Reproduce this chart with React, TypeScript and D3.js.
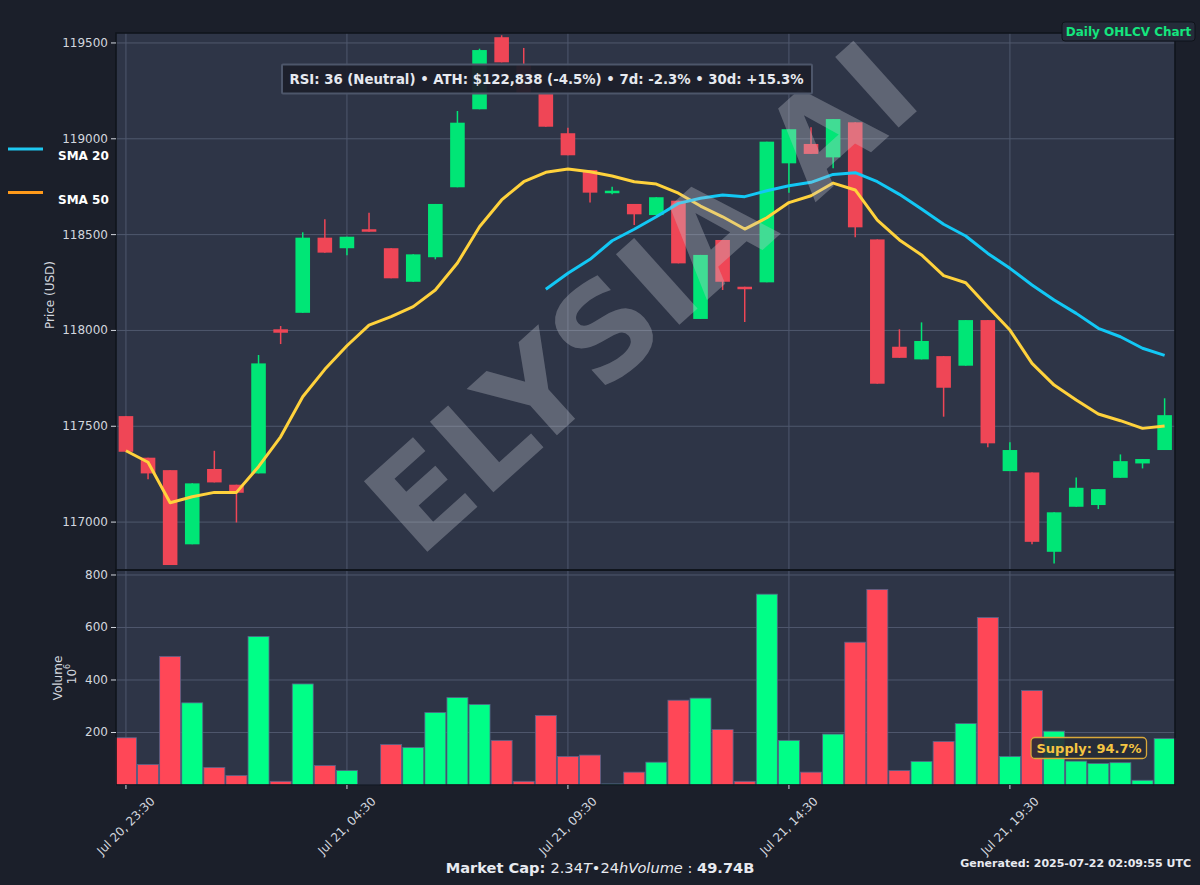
import React from "react";
import * as d3 from "d3";

const times = [
  "2025-07-20T23:30", "2025-07-21T00:00", "2025-07-21T00:30", "2025-07-21T01:00", "2025-07-21T01:30",
  "2025-07-21T02:00", "2025-07-21T02:30", "2025-07-21T03:00", "2025-07-21T03:30", "2025-07-21T04:00",
  "2025-07-21T04:30", "2025-07-21T05:00", "2025-07-21T05:30", "2025-07-21T06:00", "2025-07-21T06:30",
  "2025-07-21T07:00", "2025-07-21T07:30", "2025-07-21T08:00", "2025-07-21T08:30", "2025-07-21T09:00",
  "2025-07-21T09:30", "2025-07-21T10:00", "2025-07-21T10:30", "2025-07-21T11:00", "2025-07-21T11:30",
  "2025-07-21T12:00", "2025-07-21T12:30", "2025-07-21T13:00", "2025-07-21T13:30", "2025-07-21T14:00",
  "2025-07-21T14:30", "2025-07-21T15:00", "2025-07-21T15:30", "2025-07-21T16:00", "2025-07-21T16:30",
  "2025-07-21T17:00", "2025-07-21T17:30", "2025-07-21T18:00", "2025-07-21T18:30", "2025-07-21T19:00",
  "2025-07-21T19:30", "2025-07-21T20:00", "2025-07-21T20:30", "2025-07-21T21:00", "2025-07-21T21:30",
  "2025-07-21T22:00", "2025-07-21T22:30", "2025-07-21T23:00",
];

const open = [
  117553, 117336, 117271, 116884, 117277, 117195, 117254, 118006, 118092, 118484,
  118429, 118528, 118429, 118254, 118382, 118747, 119154, 119530, 119390, 119234,
  119029, 118837, 118716, 118660, 118602, 118677, 118060, 118472, 118228, 118251,
  118872, 118973, 118903, 119086, 118475, 117915, 117849, 117866, 117816, 118054,
  117266, 117259, 116845, 117080, 117089, 117231, 117306, 117376,
];
const high = [
  117553, 117336, 117271, 117202, 117372, 117195, 117872, 118023, 118512, 118580,
  118489, 118614, 118429, 118397, 118660, 119145, 119470, 119540, 119474, 119234,
  119058, 118837, 118750, 118660, 118695, 118677, 118394, 118472, 118228, 118985,
  119050, 119060, 119103, 119086, 118475, 118006, 118042, 117866, 118054, 118054,
  117416, 117259, 117051, 117233, 117172, 117353, 117329, 117646,
];
const low = [
  117367, 117223, 116776, 116884, 117207, 116998, 117254, 117929, 118092, 118406,
  118392, 118515, 118272, 118254, 118371, 118747, 119154, 119399, 119240, 119063,
  118914, 118667, 118710, 118550, 118602, 118350, 118060, 118211, 118044, 118251,
  118719, 118921, 118846, 118486, 117722, 117857, 117849, 117550, 117816, 117390,
  117266, 116885, 116784, 117080, 117068, 117231, 117280, 117376,
];
const close = [
  117367, 117254, 116776, 117202, 117207, 117153, 117828, 117988, 118484, 118406,
  118489, 118515, 118272, 118397, 118660, 119084, 119463, 119399, 119240, 119063,
  118914, 118719, 118729, 118606, 118695, 118350, 118394, 118254, 118215, 118985,
  119050, 118921, 119103, 118538, 117722, 117857, 117945, 117701, 118054, 117411,
  117376, 116897, 117051, 117179, 117172, 117318, 117329, 117558,
];
// volume in millions (10^6)
const volume = [
  180, 78, 490, 313, 67, 36, 566, 14, 385, 74,
  55, 2, 154, 143, 276, 333, 307, 170, 14, 265,
  109, 114, 4, 49, 87, 323, 331, 211, 14, 727,
  170, 49, 194, 544, 745, 55, 90, 166, 234, 638,
  109, 360, 205, 91, 82, 85, 18, 177,
];
const sma20 = [
  null, null, null, null, null, null, null, null, null, null,
  null, null, null, null, null, null, null, null, null, 118215,
  118298, 118371, 118468, 118528, 118593, 118663, 118690, 118707, 118698, 118729,
  118755, 118773, 118814, 118823, 118776, 118710, 118634, 118554, 118493, 118402,
  118324, 118237, 118159, 118089, 118011, 117967, 117907, 117870,
];
const sma50 = [
  117372, 117312, 117101, 117132, 117155, 117155, 117289, 117445, 117654, 117797,
  117920, 118028, 118072, 118124, 118211, 118352, 118541, 118681, 118776, 118825,
  118842, 118828, 118806, 118776, 118764, 118716, 118649, 118593, 118529, 118588,
  118667, 118703, 118769, 118733, 118576, 118472, 118394, 118286, 118249, 118124,
  118002, 117828, 117715, 117637, 117564, 117529, 117489, 117501,
];

const priceTicks = [117000, 117500, 118000, 118500, 119000, 119500];
const volumeTicks = [200, 400, 600, 800];
const xTickTimes = ["2025-07-20T23:30", "2025-07-21T04:30", "2025-07-21T09:30", "2025-07-21T14:30", "2025-07-21T19:30"];

const legendItems = [
  { label: "SMA 20", color: "#1ec8f0" },
  { label: "SMA 50", color: "#ff9a1a" },
];

const infoText = "RSI: 36 (Neutral) • ATH: $122,838 (-4.5%) • 7d: -2.3% • 30d: +15.3%";
const titleText = "Daily OHLCV Chart";
const supplyText = "Supply: 94.7%";
const generatedText = "Generated: 2025-07-22 02:09:55 UTC";
const watermarkText = "ELYSIA AI";

const FONT = "'DejaVu Sans', Verdana, sans-serif";

export default function App() {
  const W = 1200, H = 885;
  const L = 116, R = 1175, PT = 33, PB = 570, VT = 570, VB = 785;
  const parse = d3.utcParse("%Y-%m-%dT%H:%M");
  const dates = times.map((t) => parse(t) as Date);
  const step = 30 * 60 * 1000;
  const x = d3.scaleUtc()
    .domain([new Date(+dates[0] - 0.45 * step), new Date(+dates[dates.length - 1] + 0.47 * step)])
    .range([L, R]);
  const y = d3.scaleLinear().domain([116750, 119552]).range([PB, PT]);
  const yv = d3.scaleLinear().domain([0, 819]).range([VB, VT]);
  const slot = x(dates[1]) - x(dates[0]);
  const bodyW = slot * 0.66;
  const barW = slot * 0.95;
  const fmt = d3.utcFormat("%b %d, %H:%M");
  const xTicks = xTickTimes.map((t) => parse(t) as Date);

  const upC = "#00e676", dnC = "#ef4656";
  const upV = "#00ff87", dnV = "#ff4757";
  const grid = "#4f586d";
  const tickC = "#d2d6de";

  const mkLine = d3.line<number | null>()
    .defined((d) => d != null)
    .x((_, i) => x(dates[i]))
    .y((d) => y(d as number));

  return (
    <svg width={W} height={H} style={{ position: "absolute", left: 0, top: 0 }} fontFamily={FONT}>
      <rect x={0} y={0} width={W} height={H} fill="#1b1f2a" />
      <rect x={L} y={PT} width={R - L} height={PB - PT} fill="#2e3547" />
      <rect x={L} y={VT} width={R - L} height={VB - VT} fill="#2e3547" />

      {/* grid */}
      {priceTicks.map((p) => (
        <line key={"gp" + p} x1={L} x2={R} y1={y(p)} y2={y(p)} stroke={grid} strokeWidth={1} />
      ))}
      {volumeTicks.map((v) => (
        <line key={"gv" + v} x1={L} x2={R} y1={yv(v)} y2={yv(v)} stroke={grid} strokeWidth={1} />
      ))}
      {xTicks.map((d, i) => (
        <g key={"gx" + i}>
          <line x1={x(d)} x2={x(d)} y1={PT} y2={PB} stroke={grid} strokeWidth={1} />
          <line x1={x(d)} x2={x(d)} y1={VT} y2={VB} stroke={grid} strokeWidth={1} />
        </g>
      ))}

      {/* candles */}
      {dates.map((d, i) => {
        const up = close[i] >= open[i];
        const c = up ? upC : dnC;
        const cx = x(d);
        const top = y(Math.max(open[i], close[i]));
        const bot = y(Math.min(open[i], close[i]));
        return (
          <g key={"c" + i}>
            <line x1={cx} x2={cx} y1={y(high[i])} y2={y(low[i])} stroke={c} strokeWidth={1.5} />
            <rect x={cx - bodyW / 2} y={top} width={bodyW} height={Math.max(2, bot - top)} fill={c} />
          </g>
        );
      })}

      {/* volume */}
      {dates.map((d, i) => {
        const up = close[i] >= open[i];
        return (
          <rect key={"v" + i} x={x(d) - barW / 2} y={yv(volume[i])} width={barW} height={VB - yv(volume[i])}
            fill={up ? upV : dnV} stroke="#56648a" strokeWidth={0.8} />
        );
      })}

      {/* SMA lines */}
      <path d={mkLine(sma50) || ""} fill="none" stroke="#ffd23c" strokeWidth={3} strokeLinejoin="round" />
      <path d={mkLine(sma20) || ""} fill="none" stroke="#12c8f5" strokeWidth={3} strokeLinejoin="round" />

      {/* watermark */}
      <text x={642} y={298} transform="rotate(-42 642 298)" textAnchor="middle" dominantBaseline="central"
        fontSize={130} fontWeight="bold" fill="#c4c8d0" fillOpacity={0.33}>
        {watermarkText}
      </text>

      {/* spines */}
      <rect x={L} y={PT} width={R - L} height={PB - PT} fill="none" stroke="#10141c" strokeWidth={1.6} />
      <rect x={L} y={VT} width={R - L} height={VB - VT} fill="none" stroke="#10141c" strokeWidth={1.6} />

      {/* y ticks price */}
      {priceTicks.map((p) => (
        <g key={"tp" + p}>
          <line x1={L - 5} x2={L} y1={y(p)} y2={y(p)} stroke={tickC} strokeWidth={1} />
          <text x={L - 8} y={y(p)} textAnchor="end" dominantBaseline="central" fontSize={12} fill={tickC}>{p}</text>
        </g>
      ))}
      {volumeTicks.map((v) => (
        <g key={"tv" + v}>
          <line x1={L - 5} x2={L} y1={yv(v)} y2={yv(v)} stroke={tickC} strokeWidth={1} />
          <text x={L - 8} y={yv(v)} textAnchor="end" dominantBaseline="central" fontSize={12} fill={tickC}>{v}</text>
        </g>
      ))}
      {/* x ticks */}
      {xTicks.map((d, i) => {
        const cx = x(d);
        const cy = 826;
        return (
          <g key={"tx" + i}>
            <line x1={cx} x2={cx} y1={VB} y2={VB + 4} stroke={tickC} strokeWidth={1} />
            <text x={cx} y={cy} transform={`rotate(-45 ${cx} ${cy})`} textAnchor="middle" dominantBaseline="central"
              fontSize={12} fill={tickC}>{fmt(d)}</text>
          </g>
        );
      })}

      {/* axis labels */}
      <text x={50} y={295} transform="rotate(-90 50 295)" textAnchor="middle" dominantBaseline="central" fontSize={12} fill={tickC}>
        Price (USD)
      </text>
      <text x={58} y={678} transform="rotate(-90 58 678)" textAnchor="middle" dominantBaseline="central" fontSize={12} fill={tickC}>
        Volume
      </text>
      <text x={72} y={674} transform="rotate(-90 72 674)" textAnchor="middle" dominantBaseline="central" fontSize={12} fill={tickC}>
        10<tspan dy={-5} fontSize={8}>6</tspan>
      </text>

      {/* legend */}
      {legendItems.map((it, i) => (
        <g key={"lg" + i}>
          <line x1={8} x2={43} y1={149 + i * 43.5} y2={149 + i * 43.5} stroke={it.color} strokeWidth={3} />
          <text x={58} y={160 + i * 43.5} fontSize={12} fontWeight="bold" fill="#ffffff">{it.label}</text>
        </g>
      ))}

      {/* info box */}
      <rect x={282} y={64.5} width={530} height={29} fill="#1c202b" fillOpacity={0.95} stroke="#4d566a" strokeWidth={2} rx={1} />
      <text x={546.5} y={79.5} textAnchor="middle" dominantBaseline="central" fontSize={13.3} fontWeight="bold" fill="#e6e9ef">
        {infoText}
      </text>

      {/* title box */}
      <rect x={1062} y={22} width={133} height={19} rx={3} fill="#252c3a" stroke="#0f131a" strokeWidth={1} />
      <text x={1128.5} y={31.5} textAnchor="middle" dominantBaseline="central" fontSize={12} fontWeight="bold" fill="#14e67e">
        {titleText}
      </text>

      {/* supply box */}
      <rect x={1031} y={737.5} width={115.5} height={21} rx={4} fill="#262b36" fillOpacity={0.9} stroke="#d9a83a" strokeWidth={1.3} />
      <text x={1089} y={748.5} textAnchor="middle" dominantBaseline="central" fontSize={13} fontWeight="bold" fill="#f5c542">
        {supplyText}
      </text>

      {/* footer */}
      <text x={600} y={873} textAnchor="middle" fontSize={14.6} fill="#e8eaf0">
        <tspan fontWeight="bold">Market Cap: </tspan>
        <tspan>2.34</tspan>
        <tspan fontStyle="italic">T</tspan>
        <tspan>•24</tspan>
        <tspan fontStyle="italic">hVolume</tspan>
        <tspan> : </tspan>
        <tspan fontWeight="bold">49.74B</tspan>
      </text>
      <text x={1191} y={867} textAnchor="end" fontSize={11} fontWeight="bold" fill="#e8eaf0">
        {generatedText}
      </text>
    </svg>
  );
}
